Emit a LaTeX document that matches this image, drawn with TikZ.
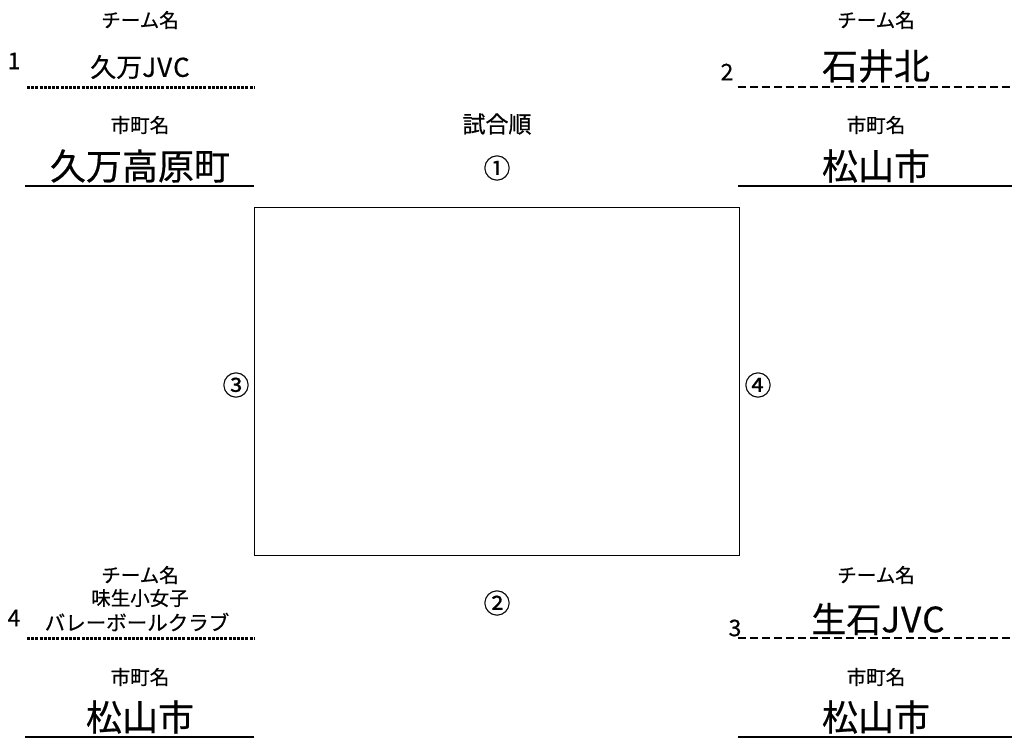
\documentclass[tikz,border=0pt]{standalone}
\usepackage{fontspec}
\setmainfont{Noto Sans CJK JP}[FakeBold=0.5]
\begin{document}
\begin{tikzpicture}[x=1pt,y=-1pt,
  every node/.style={inner sep=0pt},
  small/.style={font=\fontsize{19.5}{22}\selectfont},
  mid/.style={font=\fontsize{23}{25}\selectfont},
  circ/.style={font=\fontsize{27}{28}\selectfont},
  big/.style={font=\fontsize{36}{38}\selectfont},
  num/.style={font=\fontsize{23}{24}\selectfont},
  dotline/.style={line width=3pt, dash pattern=on 3pt off 1.2pt},
  dashline/.style={line width=2.8pt, dash pattern=on 8pt off 4pt},
  thickline/.style={line width=2.8pt},
  thinline/.style={line width=1.6pt}]
\useasboundingbox (0,0) rectangle (1012,740);

% frame
\node[draw, line width=1pt, minimum width=485pt, minimum height=348pt, anchor=north west] (frame) at (254,207) {};

% centre labels
\node[mid] (order) at (497,124) {試合順};
\node[circ] (c1) at (497,168) {①};
\node[circ] (c2) at (497,603) {②};
\node[circ] (c3) at (236,385) {③};
\node[circ] (c4) at (758,385) {④};

% team 1 (top left)
\node[small] (t1h) at (140,20) {チーム名};
\node[num] (n1) at (14,61) {1};
\node[font=\fontsize{26}{28}\selectfont] (t1) at (140,67) {久万J\kern1ptV\kern1ptC};
\coordinate (t1a) at (27,87); \coordinate (t1b) at (254,87);
\draw[dotline] (t1a) -- (t1b);
\node[small] (m1h) at (140,125) {市町名};
\node[big] (m1) at (140,166) {久万高原町};
\coordinate (m1a) at (25,186); \coordinate (m1b) at (254,186);
\draw[thickline] (m1a) -- (m1b);

% team 2 (top right)
\node[small] (t2h) at (876,20) {チーム名};
\node[num] (n2) at (727,72) {2};
\node[big] (t2) at (876,66) {石井北};
\coordinate (t2a) at (738,87); \coordinate (t2b) at (1012,87);
\draw[dashline] (t2a) -- (t2b);
\node[small] (m2h) at (876,125) {市町名};
\node[big] (m2) at (876,166) {松山市};
\coordinate (m2a) at (738,186); \coordinate (m2b) at (1012,186);
\draw[thickline] (m2a) -- (m2b);

% team 4 (bottom left)
\node[small] (t4h) at (140,575) {チーム名};
\node[small] (t4) at (140,598) {味生小女子};
\node[font=\fontsize{20.5}{22}\selectfont] (t4b) at (137,622) {バレーボールクラブ};
\node[num] (n4) at (14,618) {4};
\coordinate (t4a) at (27,638); \coordinate (t4c) at (254,638);
\draw[dotline] (t4a) -- (t4c);
\node[small] (m4h) at (140,677) {市町名};
\node[big] (m4) at (140,717) {松山市};
\coordinate (m4a) at (25,737); \coordinate (m4b) at (254,737);
\draw[thinline] (m4a) -- (m4b);

% team 3 (bottom right)
\node[small] (t3h) at (876,575) {チーム名};
\node[num] (n3) at (735,628) {3};
\node[font=\fontsize{35}{37}\selectfont] (t3) at (878,619) {生石J\kern1ptV\kern1ptC};
\coordinate (t3a) at (738,638); \coordinate (t3b) at (1012,638);
\draw[dashline] (t3a) -- (t3b);
\node[small] (m3h) at (876,677) {市町名};
\node[big] (m3) at (876,717) {松山市};
\coordinate (m3a) at (738,737); \coordinate (m3b) at (1012,737);
\draw[thinline] (m3a) -- (m3b);
\end{tikzpicture}
\end{document}
